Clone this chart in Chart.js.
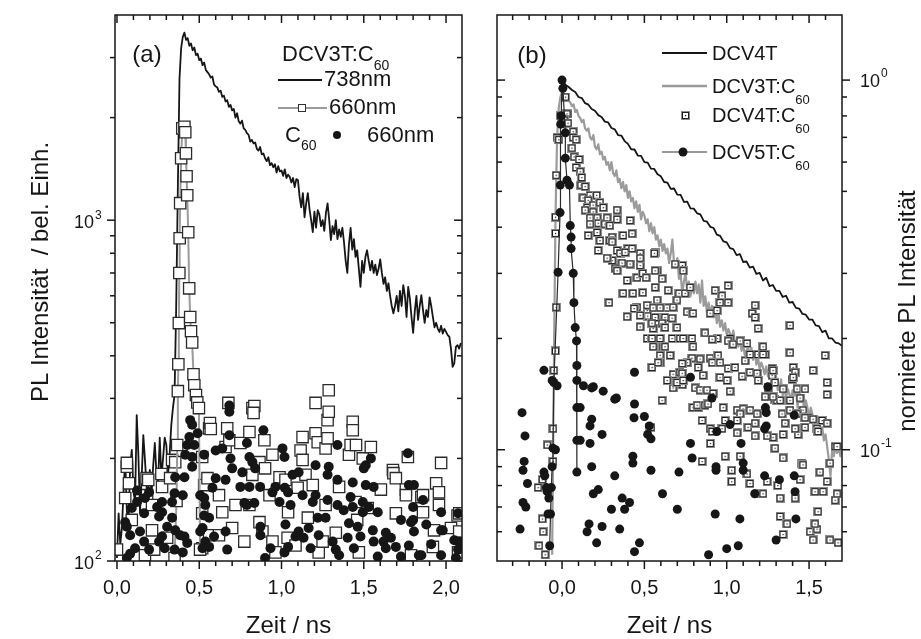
<!DOCTYPE html>
<html>
<head>
<meta charset="utf-8">
<title>PL Zeitverlauf</title>
<script src="https://cdn.jsdelivr.net/npm/chart.js@4.4.1/dist/chart.umd.min.js"></script>
<style>
  html, body { margin: 0; padding: 0; background: #fff; }
  #wrap { position: relative; width: 921px; height: 639px; }
  canvas { position: absolute; top: 0; }
  #panelA { left: 0; width: 480px; height: 639px; }
  #panelB { left: 480px; width: 441px; height: 639px; }
</style>
</head>
<body>
<div id="wrap">
  <canvas id="panelA" width="480" height="639"></canvas>
  <canvas id="panelB" width="441" height="639"></canvas>
</div>
<script>
const FONT = '"Liberation Sans", Arial, Helvetica, sans-serif';
const INK = '#161616';
const GREY = '#9b9b9b';

// ---------- (a) DCV3T:C60 blend and neat C60, counts ----------
// 738 nm trace, sampled every 10 ps from t = 0
const t738Start = 0, t738Step = 0.01;
const pl738 = [
  102, 138, 112, 125, 160, 200, 140, 128, 190, 212,
  160, 149, 268, 205, 139, 175, 234, 198, 165, 159,
  185, 156, 190, 222, 180, 170, 230, 175, 200, 230,
  219, 179, 205, 250, 281, 307, 560, 1250, 2600, 3200,
  3450, 3550, 3380, 3420, 3250, 3300, 3150, 3210, 3050, 3080,
  2950, 2980, 2850, 2900, 2760, 2720, 2680, 2620, 2640, 2500,
  2470, 2450, 2380, 2400, 2300, 2320, 2230, 2250, 2150, 2180,
  2100, 2120, 2000, 2060, 1950, 1920, 1960, 1860, 1840, 1800,
  1780, 1700, 1720, 1680, 1690, 1620, 1600, 1640, 1560, 1570,
  1520, 1490, 1530, 1450, 1470, 1430, 1460, 1380, 1440, 1390,
  1400, 1350, 1410, 1330, 1360, 1340, 1290, 1330, 1250, 1320,
  1310, 1170, 1090, 1200, 1020, 1120, 1200, 1080, 1000, 922,
  1060, 950, 1070, 1040, 960, 1000, 930, 1050, 1120, 1000,
  874, 960, 910, 1000, 880, 940, 894, 950, 860, 760,
  700, 850, 950, 820, 880, 780, 816, 720, 637, 760,
  700, 780, 816, 760, 713, 760, 700, 740, 690, 720,
  767, 700, 650, 680, 620, 653, 600, 560, 533, 560,
  600, 540, 620, 560, 645, 600, 520, 637, 590, 520,
  467, 540, 600, 510, 560, 603, 545, 500, 545, 520,
  594, 560, 520, 485, 500, 480, 470, 490, 465, 480,
  470, 460, 455, 420, 371, 380, 425, 430, 420, 436
];

// 660 nm of the blend: the short peak (joined) ...
const peak660 = [
  [0.350, 102], [0.362, 150], [0.366, 219], [0.370, 315], [0.373, 378], [0.376, 499],
  [0.379, 700], [0.381, 885], [0.384, 1122], [0.390, 1520], [0.397, 1860], [0.410, 1880],
  [0.415, 1812], [0.419, 1571], [0.423, 1346], [0.427, 1183], [0.433, 922], [0.439, 631],
  [0.445, 520], [0.450, 472], [0.457, 438], [0.465, 353], [0.470, 328], [0.480, 307],
  [0.488, 292], [0.498, 281], [0.505, 108]
];
// ... and the background counts around it
const noise660 = [
  [0.0,108],[0.05,153],[0.06,189],[0.06,194],[0.073,169],[0.09,132],[0.17,104],[0.18,175],[0.183,156],
  [0.19,173],[0.213,146],[0.213,123],[0.226,108],[0.274,165],[0.27,180],[0.305,117],[0.323,175],
  [0.335,198],[0.354,195],
  [0.518,202],[0.518,138],[0.518,109],[0.53,167],[0.55,175],[0.56,245],[0.56,119],[0.565,254],[0.57,244],
  [0.62,156],[0.62,119],[0.64,139],[0.66,216],[0.67,245],[0.677,291],[0.683,226],[0.70,125],[0.72,146],
  [0.75,222],[0.774,114],[0.805,239],[0.805,146],[0.823,281],[0.823,179],[0.835,285],[0.83,272],
  [0.866,195],[0.866,130],[0.884,122],[0.896,226],[0.90,187],[0.927,156],[0.945,205],[0.945,114],
  [0.963,106],[0.988,176],[1.024,173],[1.037,117],
  [1.04,139],[1.085,111],[1.098,164],[1.116,211],[1.128,231],[1.128,198],[1.146,179],[1.16,134],
  [1.19,167],[1.207,291],[1.207,237],[1.22,223],[1.226,106],[1.25,114],[1.268,214],[1.268,146],
  [1.28,259],[1.28,229],[1.287,274],[1.287,317],[1.33,121],[1.35,165],[1.41,205],[1.42,219],
  [1.433,256],[1.433,242],[1.45,149],[1.453,219],[1.46,132],[1.47,106],[1.494,200],[1.524,143],
  [1.543,216],[1.604,162],[1.677,185],[1.68,181],[1.695,175],[1.695,138],[1.756,162],[1.756,156],
  [1.768,202],[1.787,104],[1.85,154],[1.86,156],[1.86,139],[1.92,110],[1.927,123],[1.94,169],
  [1.957,159],[1.957,146],[1.97,194],[2.03,125],[2.07,136],[2.073,106],[2.08,138],[2.08,122]
];

// neat C60 film at 660 nm
const c60at660 = [
  [0.05,130],[0.06,126],[0.08,119],[0.06,102],[0.08,105],[0.09,143],[0.11,109],[0.122,149],[0.122,161],
  [0.14,122],[0.165,138],[0.165,114],[0.17,153],[0.195,159],[0.195,108],[0.244,144],[0.256,135],
  [0.256,114],[0.274,149],[0.274,139],[0.274,118],[0.29,109],[0.305,126],[0.335,149],[0.335,134],
  [0.35,158],[0.35,108],[0.354,176],[0.354,123],[0.384,119],[0.40,156],[0.40,106],[0.41,176],[0.41,118],
  [0.415,205],[0.427,219],[0.427,113],[0.44,231],[0.445,259],[0.457,251],[0.457,202],[0.457,189],
  [0.47,219],[0.49,237],[0.506,156],[0.506,122],[0.52,125],[0.52,109],[0.53,205],[0.53,153],[0.53,136],
  [0.537,146],[0.537,114],[0.56,134],[0.56,110],[0.58,164],[0.59,118],[0.60,211],[0.60,175],[0.64,214],
  [0.66,173],[0.66,122],[0.67,108],[0.683,286],[0.683,274],[0.683,234],[0.69,200],[0.70,187],[0.75,165],
  [0.762,182],[0.774,148],[0.79,222],[0.79,146],[0.805,202],[0.805,165],[0.823,195],[0.835,148],
  [0.84,187],[0.87,165],[0.872,119],[0.872,126],[0.89,242],[0.90,102],[0.933,109],[0.945,159],
  [0.963,165],[0.988,149],[1.006,214],[1.018,202],[1.018,106],[1.02,164],[1.024,128],
  [1.04,159],[1.04,110],[1.055,146],[1.067,179],[1.085,118],[1.104,182],[1.104,122],[1.128,156],
  [1.134,117],[1.165,125],[1.177,109],[1.19,149],[1.207,191],[1.207,156],[1.22,134],[1.226,119],
  [1.268,134],[1.28,179],[1.28,151],[1.287,189],[1.311,114],[1.33,108],[1.34,219],[1.34,173],[1.34,146],
  [1.35,104],[1.378,141],[1.402,117],[1.41,129],[1.42,154],[1.433,170],[1.433,144],[1.44,109],
  [1.463,126],[1.48,118],[1.494,149],[1.494,139],[1.50,187],[1.512,191],[1.512,167],[1.53,144],
  [1.543,200],[1.555,123],[1.56,165],[1.56,114],[1.585,139],[1.585,103],[1.62,114],[1.634,121],
  [1.634,109],[1.665,117],[1.695,110],[1.726,132],[1.726,103],[1.768,207],[1.774,167],[1.774,111],
  [1.787,130],[1.80,144],[1.80,132],[1.805,167],[1.805,122],[1.835,104],[1.85,104],[1.86,151],
  [1.88,128],[1.91,112],[1.97,139],[1.97,123],[1.97,104],[1.98,123],[2.05,115],[2.06,102],
  [2.073,138],[2.073,108],[2.08,114]
];

// ---------- (b) normalised decays ----------
const dcv4tStart = 0, dcv4tStep = 0.02;
const normDcv4t = [
  1.00, 0.972, 0.958, 0.94, 0.928, 0.90, 0.894, 0.866, 0.858, 0.835,
  0.826, 0.804, 0.795, 0.772, 0.768, 0.742, 0.736, 0.71, 0.708, 0.684,
  0.672, 0.65, 0.649, 0.625, 0.624, 0.60, 0.598, 0.576, 0.575, 0.556,
  0.549, 0.53, 0.528, 0.508, 0.509, 0.49, 0.489, 0.468, 0.469, 0.45,
  0.449, 0.436, 0.433, 0.416, 0.414, 0.401, 0.398, 0.382, 0.379, 0.366,
  0.364, 0.351, 0.349, 0.336, 0.338, 0.322, 0.323, 0.311, 0.313, 0.299,
  0.301, 0.287, 0.292, 0.277, 0.279, 0.269, 0.269, 0.259, 0.261, 0.25,
  0.251, 0.242, 0.241, 0.233, 0.232, 0.225, 0.225, 0.217, 0.216, 0.208,
  0.21, 0.20, 0.20, 0.195, 0.194, 0.191
];

const dcv3tStart = -0.06, dcv3tStep = 0.01;
const normDcv3tC60 = [
  0.052, 0.16, 0.42, 0.70, 0.84, 0.90, 0.93, 0.92, 0.90, 0.91,
  0.88, 0.87, 0.85, 0.86, 0.82, 0.83, 0.80, 0.79, 0.77, 0.78,
  0.74, 0.73, 0.74, 0.70, 0.69, 0.71, 0.66, 0.65, 0.67, 0.63,
  0.64, 0.61, 0.62, 0.59, 0.60, 0.57, 0.60, 0.56, 0.55, 0.57,
  0.53, 0.54, 0.51, 0.53, 0.50, 0.52, 0.48, 0.50, 0.47, 0.48,
  0.45, 0.47, 0.44, 0.46, 0.42, 0.44, 0.43, 0.41, 0.42, 0.39,
  0.41, 0.385, 0.40, 0.37, 0.38, 0.355, 0.37, 0.345, 0.36, 0.34,
  0.35, 0.32, 0.34, 0.37, 0.32, 0.31, 0.33, 0.29, 0.30, 0.265,
  0.285, 0.30, 0.27, 0.285, 0.26, 0.28, 0.265, 0.285, 0.265, 0.28,
  0.25, 0.287, 0.245, 0.26, 0.234, 0.25, 0.23, 0.245, 0.228, 0.24,
  0.22, 0.235, 0.215, 0.224, 0.21, 0.22, 0.205, 0.212, 0.206, 0.20,
  0.21, 0.195, 0.197, 0.19, 0.20, 0.185, 0.192, 0.18, 0.185, 0.19,
  0.178, 0.189, 0.175, 0.185, 0.17, 0.178, 0.165, 0.172, 0.167, 0.16,
  0.168, 0.158, 0.165, 0.155, 0.161, 0.15, 0.158, 0.145, 0.147, 0.155,
  0.14, 0.148, 0.138, 0.146, 0.142, 0.135, 0.145, 0.14, 0.147, 0.13,
  0.147, 0.135, 0.14, 0.128, 0.136, 0.13, 0.122, 0.13, 0.125, 0.118,
  0.123, 0.112, 0.118, 0.11, 0.115, 0.106, 0.11, 0.102, 0.094, 0.085,
  0.10, 0.096, 0.102, 0.098, 0.101, 0.096, 0.10
];

const normDcv4tC60 = [
  [-0.146,0.079],[-0.14,0.055],[-0.12,0.083],[-0.12,0.065],[-0.115,0.06],[-0.103,0.052],[-0.09,0.103],
  [-0.055,0.114],[-0.055,0.093],[-0.05,0.164],[-0.04,0.185],[-0.036,0.243],[-0.04,0.385],[-0.04,0.426],
  [-0.036,0.553],[-0.03,0.70],[-0.02,0.69],[-0.01,0.80],[0.02,0.90],[0.035,0.81],
  [0.03,0.81],[0.012,0.78],[0.036,0.765],[0.067,0.725],[0.067,0.70],[0.085,0.69],[0.06,0.655],
  [0.073,0.62],[0.103,0.61],[0.085,0.58],[0.11,0.565],[0.12,0.545],[0.115,0.52],[0.14,0.515],
  [0.17,0.488],[0.127,0.48],[0.158,0.473],[0.21,0.488],[0.152,0.452],[0.188,0.459],[0.23,0.466],
  [0.14,0.445],[0.188,0.44],[0.25,0.452],[0.17,0.424],[0.213,0.424],[0.273,0.424],[0.334,0.445],
  [0.219,0.41],[0.26,0.408],[0.17,0.408],[0.29,0.404],[0.334,0.42],[0.413,0.417],[0.158,0.38],
  [0.213,0.387],[0.304,0.376],[0.37,0.38],[0.425,0.384],[0.23,0.368],[0.29,0.368],[0.304,0.365],
  [0.219,0.346],[0.334,0.346],[0.40,0.35],[0.352,0.34],[0.383,0.342],[0.425,0.35],[0.474,0.34],
  [0.565,0.342],[0.304,0.325],[0.364,0.32],[0.413,0.318],[0.474,0.315],[0.322,0.31],[0.273,0.33],
  [0.577,0.305],[0.73,0.315],[0.334,0.305],
  [0.395,0.287],[0.455,0.292],[0.49,0.30],[0.37,0.265],[0.43,0.265],[0.285,0.25],[0.455,0.243],
  [0.516,0.238],[0.395,0.229],[0.437,0.241],[0.52,0.23],[0.553,0.213],[0.474,0.215],[0.516,0.20],
  [0.546,0.20],[0.595,0.20],[0.553,0.19],[0.613,0.19],[0.595,0.18],[0.656,0.18],[0.546,0.167],
  [0.595,0.172],[0.674,0.16],[0.716,0.162],[0.73,0.15],[0.674,0.147],[0.607,0.136],[0.795,0.13],
  [0.826,0.13],
  [0.56,0.34],[0.474,0.33],[0.565,0.305],[0.51,0.292],[0.607,0.29],[0.686,0.318],[0.735,0.305],
  [0.565,0.275],[0.644,0.27],[0.71,0.265],[0.747,0.265],[0.777,0.275],[0.929,0.27],[1.008,0.278],
  [0.971,0.261],[0.49,0.266],[0.577,0.254],[0.698,0.254],[0.516,0.246],[0.553,0.242],[0.638,0.242],
  [0.674,0.243],[0.595,0.242],[0.959,0.25],[1.008,0.25],[1.172,0.246],[1.154,0.234],[1.172,0.228],
  [0.759,0.236],[0.795,0.234],[0.899,0.234],[0.941,0.238],[0.565,0.228],[0.625,0.228],[0.668,0.227],
  [0.546,0.22],[0.607,0.22],[0.698,0.214],[0.625,0.214],[1.19,0.213],[0.474,0.231],[0.868,0.207],
  [0.941,0.20],[0.911,0.199],[1.02,0.20],[1.081,0.197],[1.123,0.194],[1.008,0.197],[1.038,0.193],
  [0.668,0.20],[0.716,0.20],[0.789,0.20],[0.625,0.19],[0.735,0.20],[0.795,0.19],[1.384,0.217],
  [1.384,0.183],[1.597,0.18],[0.838,0.176],[0.899,0.177],[0.947,0.18],[1.111,0.174],[1.141,0.181],
  [1.19,0.181],[1.233,0.181],[0.789,0.177],[0.759,0.172],[0.729,0.171],[0.911,0.172],[0.959,0.172],
  [0.583,0.172],[0.826,0.167],[0.729,0.161],[1.008,0.166],[1.05,0.167],[1.093,0.158],[1.141,0.162],
  [1.184,0.161],[1.275,0.166],[1.275,0.159],[1.403,0.167],[1.415,0.162],[1.524,0.164],[0.638,0.154],
  [0.698,0.152],[0.735,0.154],[0.856,0.159],[0.959,0.157],[1.002,0.154],[0.808,0.147],[0.838,0.145],
  [0.88,0.145],[0.917,0.142],[1.02,0.144],[1.293,0.152],[1.397,0.155],[1.427,0.146],[1.475,0.146],
  [1.609,0.152],[1.609,0.141],[1.445,0.138],[1.293,0.137],[1.305,0.136],[0.82,0.132],[0.868,0.132],
  [0.886,0.133],[0.978,0.13],[1.063,0.128],[1.099,0.129],[1.141,0.128],[1.184,0.125],[1.081,0.125],
  [1.463,0.128],[1.336,0.125],[1.384,0.128],[0.85,0.12],[0.899,0.114],[0.971,0.114],[0.99,0.12],
  [1.063,0.12],[1.129,0.115],[1.172,0.118],[1.494,0.122],[1.524,0.121],[1.579,0.12],[1.609,0.118],
  [1.548,0.114],[1.354,0.118],[1.342,0.11],[1.433,0.11],[1.415,0.114],[1.475,0.115],[0.534,0.115],
  [1.063,0.111],[0.911,0.112],[1.281,0.108],[1.245,0.109],[1.172,0.109],
  [0.54,0.115],[0.85,0.093],[0.90,0.104],[0.99,0.096],[1.03,0.088],[1.03,0.082],[1.081,0.096],
  [1.123,0.086],[1.141,0.081],[1.184,0.076],[1.22,0.076],[1.245,0.082],[1.293,0.101],[1.31,0.08],
  [1.324,0.074],[1.324,0.066],[1.342,0.095],[1.366,0.063],[1.342,0.059],[1.415,0.074],[1.445,0.083],
  [1.457,0.092],[1.463,0.091],[1.506,0.06],[1.524,0.057],[1.548,0.061],[1.536,0.063],[1.554,0.068],
  [1.536,0.077],[1.566,0.087],[1.585,0.077],[1.609,0.082],[1.627,0.092],[1.627,0.057],[1.676,0.056],
  [1.658,0.073],[1.67,0.076],[1.658,0.102],
  [1.281,0.164],[1.403,0.157],[1.342,0.146],[1.384,0.136],[1.324,0.136],[1.427,0.125],[1.475,0.122],
  [1.554,0.112],[1.67,0.102],[1.251,0.147],[1.233,0.139],[1.281,0.139],[1.22,0.181],[1.22,0.19],
  [1.19,0.154]
];

// DCV5T:C60 - joined points across the peak, then the remaining scatter
const dcv5tPeak = [
  [-0.075,0.055],[-0.07,0.067],[-0.065,0.079],[-0.06,0.09],[-0.055,0.101],[-0.05,0.152],
  [-0.024,0.302],[-0.012,0.438],[-0.011,0.52],[-0.008,0.76],[-0.005,0.80],[0.0,1.0],[0.005,0.95],
  [0.02,0.72],[0.02,0.615],[0.03,0.536],[0.045,0.52],[0.05,0.404],[0.055,0.376],[0.055,0.35],
  [0.068,0.30],[0.072,0.25],[0.08,0.214],[0.088,0.197],[0.09,0.169],[0.09,0.154],[0.09,0.13],
  [0.09,0.106],[0.09,0.087]
];
const dcv5tScatter = [
  [-0.255,0.061],[-0.243,0.126],[-0.237,0.088],[-0.237,0.072],[-0.23,0.093],[-0.225,0.109],[-0.22,0.07],
  [-0.21,0.081],[-0.11,0.164],[-0.11,0.087],[-0.105,0.085],[-0.095,0.079],[-0.09,0.077],[-0.085,0.067],
  [-0.08,0.074],[-0.06,0.154],[-0.03,0.149],[-0.04,0.1],
  [0.11,0.13],[0.11,0.106],[0.13,0.149],[0.152,0.06],[0.164,0.063],[0.17,0.116],[0.17,0.104],[0.18,0.147],
  [0.18,0.121],[0.18,0.09],[0.19,0.148],[0.19,0.076],[0.21,0.056],[0.22,0.078],[0.243,0.11],[0.243,0.062],
  [0.25,0.144],[0.30,0.069],[0.32,0.137],[0.32,0.085],[0.33,0.138],[0.35,0.061],[0.365,0.074],[0.38,0.069],
  [0.41,0.072],[0.43,0.096],[0.43,0.092],[0.437,0.122],[0.44,0.162],[0.44,0.133],[0.44,0.053],[0.47,0.056],
  [0.50,0.123],[0.52,0.11],[0.53,0.116],[0.54,0.107],[0.54,0.088],[0.61,0.076],
  [0.70,0.069],[0.71,0.087],[0.78,0.157],[0.78,0.104],[0.79,0.095],[0.89,0.052],[0.91,0.138],[0.93,0.067],
  [0.935,0.09],[0.935,0.088],[0.94,0.112],[1.0,0.054],[1.02,0.117],[1.07,0.055],[1.08,0.065],[1.087,0.104],
  [1.10,0.092],[1.10,0.088],[1.17,0.076],[1.23,0.114],[1.23,0.085],[1.235,0.13],[1.24,0.126],[1.24,0.116],
  [1.25,0.148],[1.30,0.057],[1.32,0.083],[1.41,0.124],[1.41,0.085],[1.415,0.077],[1.42,0.065]
];

// ---------- ticks ----------
const xMajorA = [0, 0.5, 1.0, 1.5, 2.0];
const xLabelsA = ['0,0', '0,5', '1,0', '1,5', '2,0'];
const xMinorA = [0.1, 0.2, 0.3, 0.4, 0.6, 0.7, 0.8, 0.9, 1.1, 1.2, 1.3, 1.4, 1.6, 1.7, 1.8, 1.9];
const yMajorA = [100, 1000];
const yExpA = ['2', '3'];
const yMinorA = [200, 300, 400, 500, 600, 700, 800, 900, 2000, 3000];

const xMajorB = [0, 0.5, 1.0, 1.5];
const xLabelsB = ['0,0', '0,5', '1,0', '1,5'];
const xMinorB = [-0.3, -0.2, -0.1, 0.1, 0.2, 0.3, 0.4, 0.6, 0.7, 0.8, 0.9, 1.1, 1.2, 1.3, 1.4, 1.6];
const yMajorB = [0.1, 1];
const yExpB = ['-1', '0'];
const yMinorB = [0.06, 0.07, 0.08, 0.09, 0.2, 0.3, 0.4, 0.5, 0.6, 0.7, 0.8, 0.9];

// ---------- helpers ----------
const onGrid = (vals, start, step) => vals.map((v, i) => ({ x: +(start + i * step).toFixed(3), y: v }));
const asXY = pairs => pairs.map(([x, y]) => ({ x, y }));

function seg(ctx, x1, y1, x2, y2) {
  ctx.beginPath(); ctx.moveTo(x1, y1); ctx.lineTo(x2, y2); ctx.stroke();
}

// left-aligned text runs, each [text, size, vertical shift]
function drawParts(ctx, x, y, parts) {
  ctx.textAlign = 'left';
  ctx.textBaseline = 'middle';
  for (const [txt, size, dy] of parts) {
    ctx.font = size + 'px ' + FONT;
    ctx.fillText(txt, x, y + dy);
    x += ctx.measureText(txt).width;
  }
  return x;
}

// small open square with a centre dot, used for DCV4T:C60
function boxWithDot() {
  const c = document.createElement('canvas');
  c.width = 9; c.height = 9;
  const g = c.getContext('2d');
  g.fillStyle = '#fff'; g.fillRect(0, 0, 9, 9);
  g.strokeStyle = '#8c8c8c'; g.lineWidth = 1.2; g.strokeRect(0.6, 0.6, 7.8, 7.8);
  g.strokeStyle = '#1e1e1e'; g.lineWidth = 1; g.strokeRect(1.5, 1.5, 6, 6);
  g.fillStyle = '#111'; g.fillRect(4, 4, 1.2, 1.2);
  return c;
}
const boxDot = boxWithDot();

// frame, ticks (outward on labelled sides, inward on mirrored ones), labels and titles
const panelAxes = {
  id: 'panelAxes',
  afterDatasetsDraw(chart, args, o) {
    const { ctx, chartArea: a } = chart;
    const xs = chart.scales.x, ys = chart.scales.y;
    ctx.save();
    ctx.strokeStyle = INK;
    ctx.fillStyle = INK;
    ctx.lineWidth = 1.5;
    ctx.strokeRect(a.left, a.top, a.right - a.left, a.bottom - a.top);

    const xTicks = (vals, len) => vals.forEach(v => {
      const px = xs.getPixelForValue(v);
      seg(ctx, px, a.bottom, px, a.bottom + len);
      seg(ctx, px, a.top, px, a.top + len);
    });
    xTicks(o.xMinor, 5);
    xTicks(o.xMajor, 8);

    const left = o.ySide === 'left';
    const dir = left ? -1 : 1;
    const outX = left ? a.left : a.right;
    const inX = left ? a.right : a.left;
    const yTicks = (vals, len) => vals.forEach(v => {
      const py = ys.getPixelForValue(v);
      seg(ctx, outX, py, outX + dir * len, py);
      seg(ctx, inX, py, inX + dir * len, py);
    });
    yTicks(o.yMinor, 5);
    yTicks(o.yMajor, 8);

    // tick labels
    ctx.font = '20px ' + FONT;
    ctx.textAlign = 'center';
    ctx.textBaseline = 'middle';
    o.xMajor.forEach((v, i) => ctx.fillText(o.xLabels[i], xs.getPixelForValue(v), a.bottom + 27));

    o.yMajor.forEach((v, i) => {
      const py = ys.getPixelForValue(v);
      ctx.font = '18px ' + FONT;
      if (left) {
        ctx.textAlign = 'right';
        ctx.fillText('10', a.left - 21, py + 3);
        ctx.textAlign = 'left';
        ctx.font = '12px ' + FONT;
        ctx.fillText(o.yExp[i], a.left - 20, py - 5);
      } else {
        ctx.textAlign = 'left';
        ctx.fillText('10', a.right + 18, py + 2);
        const w = ctx.measureText('10').width;
        ctx.font = '12px ' + FONT;
        ctx.fillText(o.yExp[i], a.right + 19 + w, py - 6);
      }
    });

    // axis titles
    ctx.font = '24px ' + FONT;
    ctx.textAlign = 'center';
    ctx.fillText(o.xTitle, (a.left + a.right) / 2, 626);
    ctx.save();
    ctx.translate(o.yTitleAt[0], o.yTitleAt[1]);
    ctx.rotate(-Math.PI / 2);
    ctx.fillText(o.yTitle, 0, 0);
    ctx.restore();

    // panel tag
    ctx.font = '24px ' + FONT;
    ctx.fillText(o.tag, o.tagAt[0], o.tagAt[1]);
    ctx.restore();
  }
};

const legendA = {
  id: 'legendA',
  afterDraw(chart) {
    const ctx = chart.ctx;
    ctx.save();
    ctx.fillStyle = INK;
    drawParts(ctx, 282, 55, [['DCV3T:C', 22, 0], ['60', 14, 11]]);

    ctx.strokeStyle = INK; ctx.lineWidth = 2;
    seg(ctx, 278, 80, 322, 80);
    drawParts(ctx, 324, 80, [['738nm', 22, 0]]);

    ctx.strokeStyle = GREY; ctx.lineWidth = 2;
    seg(ctx, 278, 108, 327, 108);
    ctx.fillStyle = '#fff'; ctx.fillRect(298.5, 104.5, 7, 7);
    ctx.strokeStyle = '#333'; ctx.lineWidth = 1; ctx.strokeRect(298.5, 104.5, 7, 7);
    ctx.fillStyle = INK;
    drawParts(ctx, 329, 108, [['660nm', 22, 0]]);

    drawParts(ctx, 285, 136, [['C', 22, 0], ['60', 14, 10]]);
    ctx.beginPath(); ctx.arc(337, 135, 4, 0, Math.PI * 2); ctx.fill();
    drawParts(ctx, 367, 136, [['660nm', 22, 0]]);
    ctx.restore();
  }
};

const legendB = {
  id: 'legendB',
  afterDraw(chart) {
    const ctx = chart.ctx;
    ctx.save();
    ctx.fillStyle = INK;
    ctx.strokeStyle = INK; ctx.lineWidth = 2;
    seg(ctx, 182, 53, 227, 53);
    drawParts(ctx, 232, 54, [['DCV4T', 20, 0]]);

    ctx.strokeStyle = GREY; ctx.lineWidth = 2.5;
    seg(ctx, 182, 86, 227, 86);
    drawParts(ctx, 232, 87, [['DCV3T:C', 20, 0], ['60', 13, 13]]);

    ctx.drawImage(boxDot, 201, 111);
    drawParts(ctx, 232, 116, [['DCV4T:C', 20, 0], ['60', 13, 13]]);

    ctx.strokeStyle = '#333'; ctx.lineWidth = 1.2;
    seg(ctx, 182, 152, 227, 152);
    ctx.beginPath(); ctx.arc(203, 152, 4.5, 0, Math.PI * 2); ctx.fill();
    drawParts(ctx, 232, 153, [['DCV5T:C', 20, 0], ['60', 13, 13]]);
    ctx.restore();
  }
};

function panelOptions(pad, xRange, yRange, axes) {
  return {
    responsive: false,
    animation: false,
    devicePixelRatio: 1,
    events: [],
    layout: { padding: pad },
    datasets: { scatter: { clip: 0 } },
    plugins: { legend: { display: false }, tooltip: { enabled: false }, panelAxes: axes },
    scales: {
      x: { type: 'linear', min: xRange[0], max: xRange[1], display: false },
      y: { type: 'logarithmic', min: yRange[0], max: yRange[1], display: false }
    }
  };
}

const openSquare = {
  pointStyle: 'rect', pointRadius: 8, pointBackgroundColor: '#fff',
  pointBorderColor: '#2b2b2b', pointBorderWidth: 1.3
};
const filledDot = r => ({
  pointStyle: 'circle', pointRadius: r, pointBackgroundColor: INK, pointBorderWidth: 0
});

// panel (a)
new Chart(document.getElementById('panelA'), {
  type: 'scatter',
  data: {
    datasets: [
      { label: 'C60 660nm', data: asXY(c60at660), ...filledDot(5), order: 1 },
      { label: 'DCV3T:C60 660nm', data: asXY(peak660), showLine: true, borderColor: GREY, borderWidth: 2,
        ...openSquare, order: 2 },
      { label: 'DCV3T:C60 660nm Untergrund', data: asXY(noise660), ...openSquare, order: 2 },
      { label: 'DCV3T:C60 738nm', data: onGrid(pl738, t738Start, t738Step), showLine: true,
        borderColor: INK, borderWidth: 1.8, borderJoinStyle: 'round', pointRadius: 0, order: 3 }
    ]
  },
  options: panelOptions({ left: 115, right: 18, top: 15, bottom: 78 }, [-0.012, 2.097], [100, 4000], {
    xMajor: xMajorA, xMinor: xMinorA, xLabels: xLabelsA,
    yMajor: yMajorA, yMinor: yMinorA, yExp: yExpA, ySide: 'left',
    xTitle: 'Zeit / ns', yTitle: 'PL Intensität  / bel. Einh.', yTitleAt: [41, 272],
    tag: '(a)', tagAt: [147, 55]
  }),
  plugins: [panelAxes, legendA]
});

// panel (b)
new Chart(document.getElementById('panelB'), {
  type: 'scatter',
  data: {
    datasets: [
      { label: 'DCV5T:C60', data: asXY(dcv5tPeak), showLine: true, borderColor: '#2a2a2a', borderWidth: 1.2,
        ...filledDot(4.5), order: 1 },
      { label: 'DCV5T:C60 Rest', data: asXY(dcv5tScatter), ...filledDot(4.5), order: 1 },
      { label: 'DCV4T:C60', data: asXY(normDcv4tC60), pointStyle: boxDot, pointRadius: 4, order: 2 },
      { label: 'DCV4T', data: onGrid(normDcv4t, dcv4tStart, dcv4tStep), showLine: true,
        borderColor: INK, borderWidth: 1.8, borderJoinStyle: 'round', pointRadius: 0, order: 3 },
      { label: 'DCV3T:C60', data: onGrid(normDcv3tC60, dcv3tStart, dcv3tStep), showLine: true,
        borderColor: GREY, borderWidth: 2.2, borderJoinStyle: 'round', pointRadius: 0, order: 4 }
    ]
  },
  options: panelOptions({ left: 17, right: 79, top: 15, bottom: 78 }, [-0.395, 1.70], [0.05, 1.5], {
    xMajor: xMajorB, xMinor: xMinorB, xLabels: xLabelsB,
    yMajor: yMajorB, yMinor: yMinorB, yExp: yExpB, ySide: 'right',
    xTitle: 'Zeit / ns', yTitle: 'normierte PL Intensität', yTitleAt: [428, 311],
    tag: '(b)', tagAt: [52, 56]
  }),
  plugins: [panelAxes, legendB]
});
</script>
</body>
</html>
